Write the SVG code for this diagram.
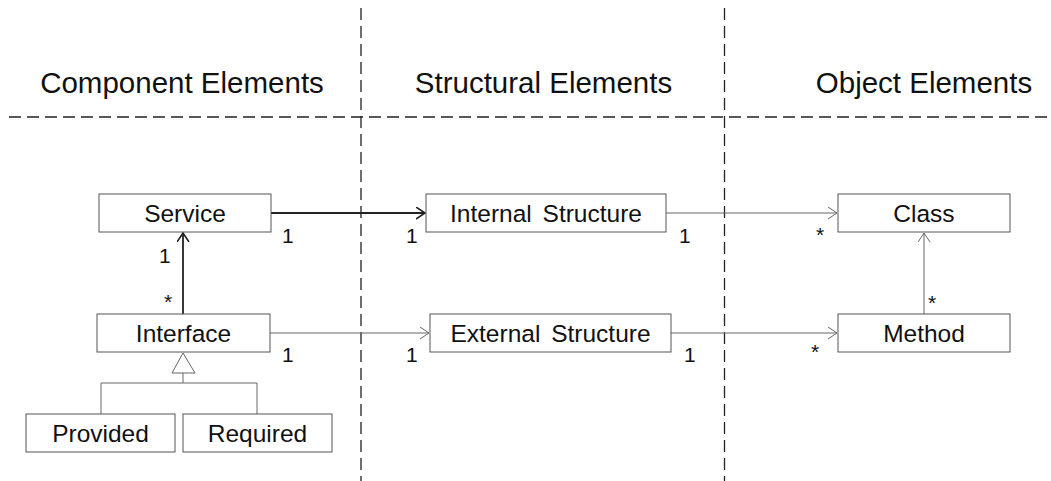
<svg xmlns="http://www.w3.org/2000/svg" width="1051" height="481" viewBox="0 0 1051 481">
<style>
.hdr{font-family:"Liberation Sans",Arial,sans-serif;font-size:29.5px;fill:#111;text-anchor:middle}
.lbl{font-family:"Liberation Sans",Arial,sans-serif;font-size:24.5px;fill:#111;text-anchor:middle}
.m{font-family:"Liberation Sans",Arial,sans-serif;font-size:21px;fill:#111}
.box{fill:#fff;stroke:#555;stroke-width:1}
.dash{stroke:#222;stroke-width:1.3;stroke-dasharray:12 6;fill:none}
.thick{stroke:#222;stroke-width:1.8;fill:none}
.thin{stroke:#666;stroke-width:1;fill:none}
</style>
<defs>
<marker id="openDark" markerUnits="userSpaceOnUse" markerWidth="12" markerHeight="14" refX="9" refY="6" orient="auto">
<path d="M0,0 L9,6 L0,12" fill="none" stroke="#222" stroke-width="1.6"/>
</marker>
<marker id="openLight" markerUnits="userSpaceOnUse" markerWidth="12" markerHeight="14" refX="9" refY="6" orient="auto">
<path d="M0,0 L9,6 L0,12" fill="none" stroke="#666" stroke-width="1"/>
</marker>
</defs>
<g id="partitions">
<line class="dash" x1="361" y1="8" x2="361" y2="481"/>
<line class="dash" x1="724.5" y1="8" x2="724.5" y2="481"/>
<line class="dash" x1="9" y1="117" x2="1051" y2="117"/>
</g>
<g id="headers">
<text class="hdr" x="182" y="93">Component Elements</text>
<text class="hdr" x="543.5" y="93">Structural Elements</text>
<text class="hdr" x="924" y="93">Object Elements</text>
</g>
<g id="connectors">
<line class="thick" x1="271" y1="213" x2="425" y2="213" marker-end="url(#openDark)"/>
<line class="thick" x1="183" y1="314" x2="183" y2="233" marker-end="url(#openDark)"/>
<line class="thin" x1="270" y1="333" x2="429" y2="333" marker-end="url(#openLight)"/>
<line class="thin" x1="666" y1="213" x2="837" y2="213" marker-end="url(#openLight)"/>
<line class="thin" x1="671" y1="333" x2="837" y2="333" marker-end="url(#openLight)"/>
<line class="thin" x1="924" y1="314" x2="924" y2="233" marker-end="url(#openLight)"/>
<path class="thin" d="M183,373 V383 M101,414 V383 H257 V414"/>
<polygon points="183,353 172,373 195,373" fill="#fff" stroke="#666" stroke-width="1"/>
<text class="m" x="282" y="243">1</text>
<text class="m" x="406" y="243">1</text>
<text class="m" x="679" y="243">1</text>
<text class="m" x="816" y="242">*</text>
<text class="m" x="159" y="263">1</text>
<text class="m" x="164" y="309">*</text>
<text class="m" x="928" y="310">*</text>
<text class="m" x="282" y="362">1</text>
<text class="m" x="406" y="362">1</text>
<text class="m" x="684" y="362">1</text>
<text class="m" x="811" y="359">*</text>
</g>
<g id="service"><rect class="box" x="99" y="194" width="172" height="38"/><text class="lbl" x="185" y="222">Service</text></g>
<g id="interface"><rect class="box" x="97" y="314" width="173" height="38"/><text class="lbl" x="183.5" y="342">Interface</text></g>
<g id="provided"><rect class="box" x="26" y="414" width="149" height="38"/><text class="lbl" x="100.5" y="442">Provided</text></g>
<g id="required"><rect class="box" x="183" y="414" width="149" height="38"/><text class="lbl" x="257.5" y="442">Required</text></g>
<g id="internal"><rect class="box" x="426" y="194" width="240" height="38"/><text class="lbl" x="546" y="222" word-spacing="4">Internal Structure</text></g>
<g id="external"><rect class="box" x="430" y="314" width="241" height="38"/><text class="lbl" x="550.5" y="342" word-spacing="4">External Structure</text></g>
<g id="class"><rect class="box" x="838" y="194" width="172" height="38"/><text class="lbl" x="924" y="222">Class</text></g>
<g id="method"><rect class="box" x="838" y="314" width="172" height="38"/><text class="lbl" x="924" y="342">Method</text></g>
</svg>
